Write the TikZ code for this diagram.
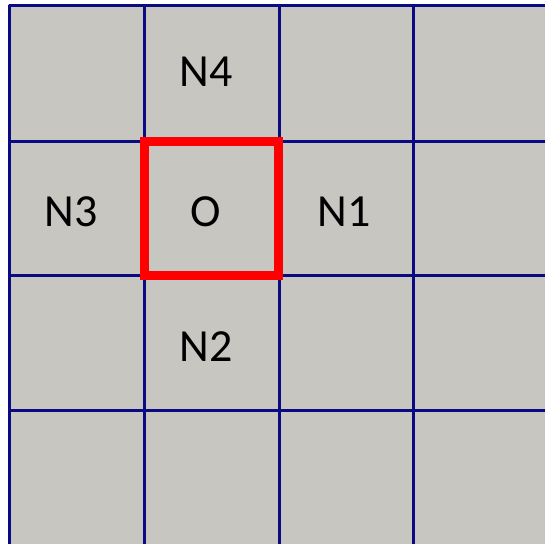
\documentclass[tikz,border=0pt]{standalone}
\usepackage{fontspec}
\setmainfont{Carlito}
\definecolor{cellgray}{RGB}{200,198,192}
\definecolor{gridblue}{RGB}{10,10,130}
\begin{document}
\begin{tikzpicture}[x=1pt,y=-1pt,
  lbl/.style={font=\fontsize{46}{50}\selectfont, text=black, inner sep=0pt},
  gridline/.style={draw=gridblue, line width=3pt},
  focus/.style={draw=red, line width=9pt}]
\useasboundingbox (0,0) rectangle (545,543);
\begin{scope}
\clip (0,0) rectangle (545,543);
\fill[cellgray] (9.5,6) rectangle (560,560);
\foreach \x in {9.5,144,279,413.5} \draw[gridline] (\x,6) -- (\x,560);
\foreach \y in {6,141,275.5,410} \draw[gridline] (9.5,\y) -- (560,\y);
\draw[gridline, line join=round] (9.5,560) -- (9.5,6) -- (560,6);
\end{scope}
\draw[focus] (144.5,141) rectangle (278.5,275.5);
\node[lbl] (n4) at (206,72) {N4};
\node[lbl] (o) at (206,212) {O};
\node[lbl] (n3) at (71,212) {N3};
\node[lbl] (n1) at (344,212) {N1};
\node[lbl] (n2) at (206,347) {N2};
\end{tikzpicture}
\end{document}
